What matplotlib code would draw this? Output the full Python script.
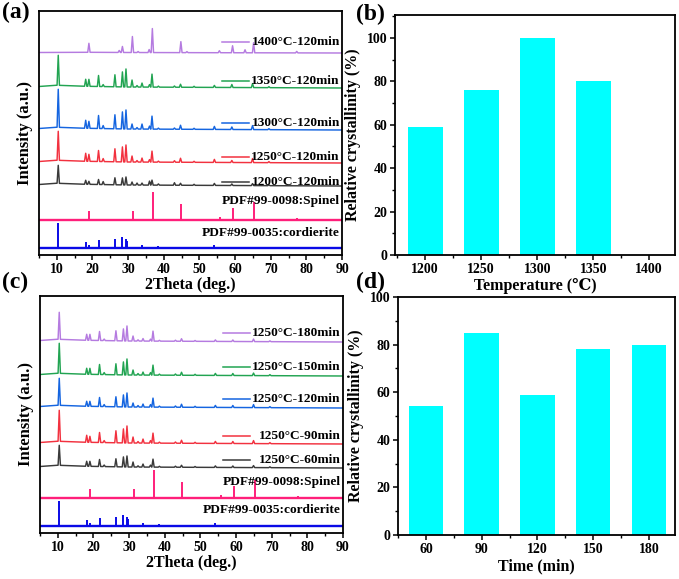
import numpy as np
import matplotlib
matplotlib.use("Agg")
import matplotlib.pyplot as plt
from matplotlib.ticker import MultipleLocator, FixedLocator

plt.rcParams['font.family'] = ['Liberation Serif', 'DejaVu Serif']
plt.rcParams['font.weight'] = 'bold'
plt.rcParams['axes.labelweight'] = 'bold'

# ---------------- data ----------------
# panel (b)
temps = [1200, 1250, 1300, 1350, 1400]
cryst_temp = [59, 76, 100, 80, 0]
# panel (d)
times = [60, 90, 120, 150, 180]
cryst_time = [54, 85, 59, 78, 80]

# reference sticks
spinel_pos = [19.0, 31.3, 36.85, 44.8, 55.65, 59.35, 65.25, 68.7, 74.1, 77.3, 82.7, 85.8]
spinel_int = [9, 9, 28, 16, 2.7, 12.5, 18, 0.7, 0.8, 2.2, 1.3, 0.5]
cord_pos = [10.4, 18.1, 18.95, 21.7, 26.3, 28.4, 29.4, 29.7, 33.8, 36.5, 38.5, 41.5,
            43.1, 47.0, 48.5, 49.2, 50.6, 54.2, 57.5, 61.5, 62.8, 64.5, 69.5, 70.5,
            71.3, 75.0, 77.0, 81.0, 82.6]
cord_int = [25, 5.7, 3.3, 8.3, 9.3, 11, 9.3, 7, 3.3, 1.0, 1.7, 1.2,
            1.5, 1.0, 1.3, 1.2, 1.0, 3.3, 1.0, 0.8, 0.8, 0.8, 1.0, 0.8,
            0.8, 0.6, 0.6, 0.6, 0.8]

# measured patterns (cordierite + spinel phases)
meas_pos = [10.4, 18.1, 19.0, 21.7, 23.0, 26.3, 28.4, 29.4, 31.1, 32.5, 33.9, 36.0,
            36.7, 38.5, 43.0, 44.7, 48.5, 54.2, 59.1, 64.9, 69.5]
h_1200 = [18, 4, 3, 5, 3, 7, 7, 8, 3, 2, 2, 4, 5, 1.2, 2.5, 2, 1, 2, 1.5, 2, 0.8]
h_1250 = [29, 8, 7, 11, 3, 13, 15, 17, 6, 1.5, 4, 2.5, 11, 1, 1.5, 4, 1, 3, 2, 4, 1]
h_1300 = [38, 8, 7, 13, 3, 14, 17, 19, 5, 1.5, 5, 3, 13, 1, 1.2, 4, 1, 3, 2.5, 4, 1]
h_1350 = [30, 7, 7, 11, 2, 12, 15, 18, 7, 1.5, 4, 2.5, 13, 1, 1.2, 3, 1, 2, 3, 4, 1]
pos_1400 = [19.0, 27.5, 28.4, 31.2, 32.8, 35.9, 36.8, 44.8, 46.5, 55.6, 59.3, 62.8, 65.2, 77.3]
h_1400 = [9, 2, 6, 16, 1, 3, 24, 11, 1, 2, 7, 3, 10, 1.5]

h_60 = [20, 5, 5, 7, 1.5, 8, 10, 11, 5, 1.2, 3, 2, 8, 0.8, 1, 2, 0.8, 1.5, 1.5, 2, 0.8]
h_90 = [31, 7, 6, 10, 2, 12, 14, 17, 6, 1.5, 4, 2.5, 10, 1, 1.2, 3, 1, 2, 2, 3, 1]
h_120 = [27, 5, 5, 9, 2, 10, 12, 14, 4, 1.5, 3, 2.5, 9, 1, 1.2, 3, 1, 2, 2, 3, 1]
h_150 = [30, 6, 6, 10, 2, 11, 13, 16, 5, 1.5, 3, 2.5, 10, 1, 1.2, 3, 1, 2, 2, 2.5, 1]
h_180 = [27, 6, 6, 9, 1.5, 10, 12, 15, 5, 1.2, 2.5, 2, 10, 0.8, 1, 2.5, 0.8, 1.5, 1.5, 2.5, 0.8]

# background knots (gentle amorphous hump) for measured patterns
bg_x = [5, 9, 14, 30, 90]
bg_hump = [1.5, 3.0, 2.0, 1.0, 0.0]
bg_flat = [0.5, 1.0, 0.8, 0.5, 0.0]

labels_a = ['1400\u00b0C-120min', '1350\u00b0C-120min', '1300\u00b0C-120min',
            '1250\u00b0C-120min', '1200\u00b0C-120min']
labels_c = ['1250\u00b0C-180min', '1250\u00b0C-150min', '1250\u00b0C-120min',
            '1250\u00b0C-90min', '1250\u00b0C-60min']
spinel_label = 'PDF#99-0098:Spinel'
cord_label = 'PDF#99-0035:cordierite'

col_purple = '#B57BE0'
col_green = '#22A452'
col_blue = '#1565E0'
col_red = '#F2313F'
col_black = '#3A3A3A'
col_spinel = '#FF1F7A'
col_cord = '#0A0AE6'
bar_col = '#00FFFF'


def measured(pos, hts, base, bg, hw=0.33):
    xs = [5.0]
    ys = [0.0]
    for p, h in sorted(zip(pos, hts)):
        xs += [p - hw, p, p + hw]
        ys += [0.0, h, 0.0]
    xs.append(90.0)
    ys.append(0.0)
    xs = np.array(xs)
    ys = np.array(ys) + base + np.interp(xs, bg_x, bg)
    return xs, ys


def sticks(ax, pos, hts, base, color):
    ax.plot([5, 90], [base, base], color=color, lw=1.7)
    ax.vlines(pos, base, np.array(hts) + base, color=color, lw=1.4)


def xrd_panel(ax, series, spin_base, cord_base, ytop, label_ys, labels, spin_y, cord_y):
    for (pos, hts, base, bg, col), ly, lab in zip(series, label_ys, labels):
        xs, ys = measured(pos, hts, base, bg)
        ax.plot(xs, ys, color=col, lw=1.05)
        ax.plot([56.3, 63.8], [ly, ly], color=col, lw=1.1)
        ax.text(89.4, ly, lab, ha='right', va='center', fontsize=9.6, fontweight='bold')
    sticks(ax, spinel_pos, spinel_int, spin_base, col_spinel)
    sticks(ax, cord_pos, cord_int, cord_base, col_cord)
    ax.text(89.4, spin_y, spinel_label, ha='right', va='center', fontsize=9.6, fontweight='bold')
    ax.text(89.4, cord_y, cord_label, ha='right', va='center', fontsize=9.6, fontweight='bold')
    ax.set_xlim(5, 90)
    ax.set_ylim(0, ytop)
    ax.set_yticks([])
    ax.xaxis.set_major_locator(MultipleLocator(10))
    ax.xaxis.set_minor_locator(MultipleLocator(5))
    ax.set_xlabel('2Theta (deg.)', fontsize=11.5, labelpad=1)
    ax.set_ylabel('Intensity (a.u.)', fontsize=12, labelpad=4)


def bar_panel(ax, cats, vals, step, xlim, ylim, xlabel):
    ax.bar(cats, vals, width=step * 0.62, color=bar_col)
    ax.set_xlim(*xlim)
    ax.set_ylim(*ylim)
    ax.xaxis.set_major_locator(FixedLocator(cats))
    ax.xaxis.set_minor_locator(FixedLocator([c + step / 2 for c in cats[:-1]] + [cats[0] - step / 2, cats[-1] + step / 2]))
    ax.yaxis.set_major_locator(MultipleLocator(20))
    ax.yaxis.set_minor_locator(MultipleLocator(10))
    ax.set_xlabel(xlabel, fontsize=11.5, labelpad=2)
    ax.set_ylabel('Relative crystallinity (%)', fontsize=11.5, labelpad=4)


fig = plt.figure(figsize=(6.79, 5.79), dpi=100)
W, H = 679.0, 579.0


def add_ax(l, t, r, b):
    return fig.add_axes([l / W, 1 - b / H, (r - l) / W, (b - t) / H])


ax_a = add_ax(39, 11, 342, 255)
ax_b = add_ax(395, 15, 675, 255)
ax_c = add_ax(40, 296, 343, 533)
ax_d = add_ax(398, 297, 675, 535)

series_a = [
    (pos_1400, h_1400, 202, bg_flat, col_purple),
    (meas_pos, h_1350, 167, bg_hump, col_green),
    (meas_pos, h_1300, 125, bg_hump, col_blue),
    (meas_pos, h_1250, 92, bg_hump, col_red),
    (meas_pos, h_1200, 69, bg_hump, col_black),
]
xrd_panel(ax_a, series_a, 35, 7, 244, [213, 174, 132, 98, 73], labels_a, 54, 22)

series_c = [
    (meas_pos, h_180, 191, bg_hump, col_purple),
    (meas_pos, h_150, 157, bg_hump, col_green),
    (meas_pos, h_120, 125, bg_hump, col_blue),
    (meas_pos, h_90, 89, bg_hump, col_red),
    (meas_pos, h_60, 65, bg_hump, col_black),
]
xrd_panel(ax_c, series_c, 35, 7, 237, [200, 166, 134, 97, 73], labels_c, 51, 23)

bar_panel(ax_b, temps, cryst_temp, 50, (1173, 1423), (0, 110.5), 'Temperature (\u2103)')
bar_panel(ax_d, times, cryst_time, 30, (45, 194), (0, 100), 'Time (min)')

for ax in (ax_a, ax_b, ax_c, ax_d):
    for s in ax.spines.values():
        s.set_linewidth(1.3)
    ax.tick_params(which='major', direction='out', length=3.5, width=1.1, labelsize=10, pad=2)
    ax.tick_params(which='minor', direction='out', length=2, width=1.0)
    for lab in ax.get_xticklabels() + ax.get_yticklabels():
        lab.set_fontweight('bold')

fig.text(2 / W, 1 - 12 / H, '(a)', fontsize=17, fontweight='bold', va='center', ha='left')
fig.text(356 / W, 1 - 14 / H, '(b)', fontsize=17, fontweight='bold', va='center', ha='left')
fig.text(2 / W, 1 - 282 / H, '(c)', fontsize=17, fontweight='bold', va='center', ha='left')
fig.text(356 / W, 1 - 282 / H, '(d)', fontsize=17, fontweight='bold', va='center', ha='left')

fig.savefig('out.png', dpi=100)
